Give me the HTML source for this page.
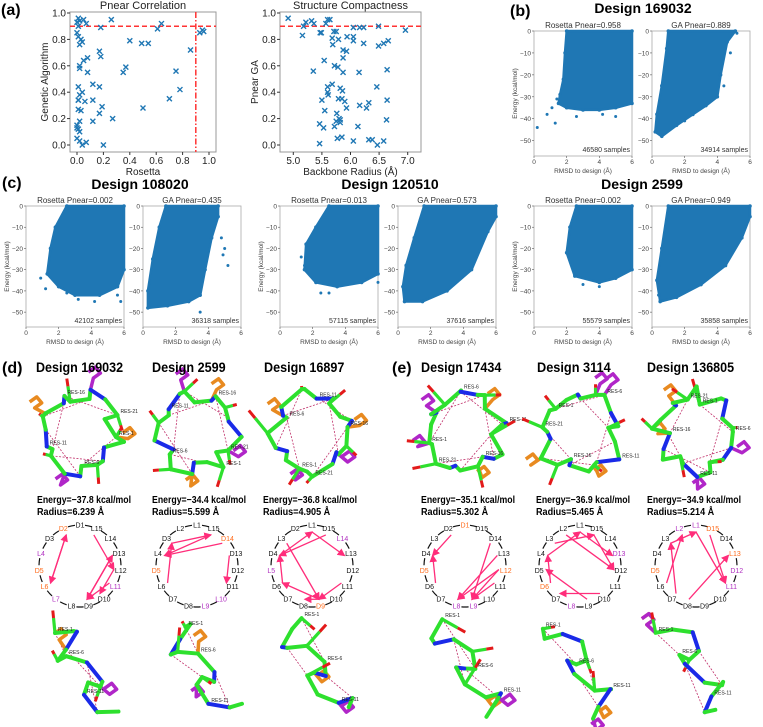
<!DOCTYPE html>
<html><head><meta charset="utf-8"><style>
html,body{margin:0;padding:0;background:#fff}
svg{display:block;font-family:"Liberation Sans",sans-serif}
</style></head><body>
<svg id="fig" width="763" height="727" viewBox="0 0 763 727" xmlns="http://www.w3.org/2000/svg">
<g id="root"></g>
</svg>
<script>
// ---------- Panel (a) data ----------
const rosettaPnear=[0.01,0.02,0.0,0.05,0.07,0.26,0.18,0.64,0.61,0.93,0.95,0.96,0.86,0.40,0.49,0.54,0.75,0.78,0.70,0.50,0.35,0.37,0.27,0.17,0.18,0.17,0.19,0.17,0.12,0.12,0.12,0.20,0.08,0.08,0.05,0.02,0.02,0.06,0.07,0.04,0.01,0.02,0.04,0.01,0.01,0.02,0.0,0.01,0.0,0.02,0.01,0.03,0.0,0.02,0.01,0.04,0.03,0.0,0.01,0.02];
const gaPnear=[0.96,0.94,0.93,0.95,0.92,0.95,0.89,0.92,0.88,0.85,0.87,0.86,0.72,0.79,0.77,0.77,0.56,0.42,0.35,0.28,0.55,0.59,0.20,0.71,0.67,0.44,0.29,0.24,0.46,0.34,0.18,0.0,0.66,0.55,0.64,0.60,0.58,0.33,0.02,0.0,0.44,0.38,0.40,0.34,0.27,0.18,0.15,0.12,0.05,0.03,0.82,0.80,0.85,0.76,0.90,0.78,0.26,0.13,0.34,0.10];
const radiusVals=[4.91,5.16,5.18,5.22,5.32,5.36,5.57,5.60,5.64,5.47,5.49,5.68,5.71,5.75,5.79,5.69,5.94,6.05,6.05,6.05,6.16,6.23,6.23,6.49,6.49,6.58,6.66,6.96,5.54,5.35,5.72,5.78,5.87,5.93,5.87,5.87,6.15,6.64,5.68,5.60,5.60,5.61,5.82,5.86,5.79,5.85,5.90,5.50,5.55,5.93,6.16,6.28,6.32,6.46,6.64,6.63,5.46,5.53,5.72,5.76,5.75,5.80,5.82,5.82,6.13,5.77,5.85,6.05,5.46,6.32,6.38,6.47,6.58];
const gaCompact=[0.96,0.83,0.90,0.93,0.94,0.92,0.92,0.95,0.95,0.85,0.85,0.81,0.86,0.86,0.80,0.76,0.82,0.89,0.82,0.79,0.89,0.89,0.77,0.90,0.75,0.77,0.79,0.87,0.64,0.56,0.60,0.59,0.72,0.71,0.66,0.55,0.55,0.57,0.46,0.44,0.40,0.38,0.43,0.41,0.35,0.35,0.33,0.34,0.26,0.28,0.30,0.28,0.32,0.44,0.34,0.19,0.16,0.13,0.14,0.24,0.18,0.20,0.19,0.17,0.14,0.05,0.06,0.03,0.01,0.04,0.04,0.0,0.03];
const yTicksA=[0.0,0.2,0.4,0.6,0.8,1.0];
const xTicksA1=[0.0,0.2,0.4,0.6,0.8,1.0];
const xTicksA2=[5.0,5.5,6.0,6.5,7.0];
const threshold=0.9;

// ---------- Density panels data ----------
const densityTitles=["Rosetta Pnear=0.958","GA Pnear=0.889","Rosetta Pnear=0.002","GA Pnear=0.435","Rosetta Pnear=0.013","GA Pnear=0.573","Rosetta Pnear=0.002","GA Pnear=0.949"];
const sampleCounts=["46580 samples","34914 samples","42102 samples","36318 samples","57115 samples","37616 samples","55579 samples","35858 samples"];
const outlines=[
 [[2.0,0],[1.9,-10],[1.8,-22],[1.6,-29],[1.5,-33],[2.0,-35],[3.0,-36],[4.0,-36],[5.0,-35],[6,-33],[6,0]],
 [[1.0,0],[0.9,-8],[0.6,-25],[0.3,-38],[0.2,-46],[0.6,-48],[1.5,-43],[2.5,-38],[3.3,-34],[4.0,-30],[4.2,-20],[4.6,-5],[5.1,0]],
 [[2.5,0],[1.8,-10],[1.5,-20],[1.3,-32],[2.0,-38],[3.0,-42],[4.5,-42],[5.6,-38],[6,-30],[6,0]],
 [[1.4,0],[1.0,-10],[0.6,-25],[0.3,-40],[0.3,-48],[1.5,-47],[2.8,-45],[3.5,-42],[3.8,-30],[4.2,-15],[4.6,-5],[4.6,0]],
 [[3.0,0],[2.2,-10],[1.6,-18],[1.5,-30],[2.2,-36],[3.5,-38],[5.0,-36],[6,-32],[6,0]],
 [[1.6,0],[1.0,-15],[0.5,-28],[0.3,-38],[0.4,-45],[1.5,-45],[3.0,-40],[4.5,-30],[5.5,-12],[6,-5],[6,0]],
 [[2.6,0],[2.2,-10],[2.0,-22],[2.5,-33],[4.0,-36],[5.0,-34],[6,-30],[6,0]],
 [[1.0,0],[0.6,-20],[0.3,-35],[0.5,-45],[1.5,-43],[3.0,-37],[4.5,-28],[5.5,-15],[6,-5],[6,0]]
];
const outliers=[
 [[0.2,-44],[0.8,-38],[1.3,-42],[1.1,-35],[1.4,-31],[2.6,-39],[4.2,-38],[5.0,-39]],
 [[4.8,-10],[5.2,-1],[4.4,-25],[2.0,-41]],
 [[0.9,-34],[1.2,-39],[3.2,-44],[4.2,-45],[5.6,-42],[5.8,-45],[2.5,-41]],
 [[5.0,-20],[5.2,-28],[4.8,-15],[3.5,-50],[4.9,-23]],
 [[1.3,-24],[1.5,-28],[2.5,-41],[3.0,-41],[6,-36]],
 [[0.4,-40],[5.8,-3]],
 [[4.0,-38],[3.0,-37]],
 [[5.7,-10],[0.4,-42]]
];
const xTicksD=[0,2,4,6];
const yTicksD=[0,-10,-20,-30,-40,-50];

// ---------- Contact circle data ----------
const circleLabels=[
 ["D1","D2","D3","L4","D5","L6","L7","L8","D9","D10","L11","L12","D13","L14","L15"],
 ["L1","L2","D3","L4","D5","L6","D7","D8","L9","L10","D11","D12","D13","D14","L15"],
 ["L1","D2","L3","D4","L5","D6","D7","D8","D9","D10","L11","D12","L13","L14","D15"],
 ["D1","D2","L3","D4","D5","D6","D7","L8","L9","L10","L11","L12","L13","D14","D15"],
 ["L1","L2","L3","L4","D5","D6","D7","L8","L9","D10","L11","D12","D13","L14","D15"],
 ["L1","L2","L3","D4","D5","L6","D7","D8","D9","D10","L11","D12","L13","D14","D15"]
];
const circleColors=[
 {2:"o",4:"p",5:"o",6:"o",7:"p",11:"p"},
 {5:"o",9:"p",10:"p",14:"o"},
 {5:"p",9:"o",14:"p"},
 {1:"o",5:"o",8:"p",9:"p",12:"o"},
 {6:"o",8:"p",13:"p"},
 {1:"p",2:"p",5:"o",11:"p",12:"p",13:"o",15:"o"}
];
const circleArrows=[
 [[2,6],[6,2],[15,12],[13,9],[11,9],[9,13],[12,10]],
 [[3,15],[15,4],[14,4],[6,3],[13,11]],
 [[4,1],[15,4],[1,13],[3,9],[9,6],[6,4],[11,9],[9,8]],
 [[2,4],[6,4],[14,9],[13,8],[12,8],[11,9],[12,9]],
 [[3,15],[4,1],[1,13],[2,12],[15,12],[9,5],[10,7],[6,4]],
 [[3,1],[15,11],[1,11],[8,13],[7,3],[6,2]]
];
const designNames=["Design 169032","Design 2599","Design 16897","Design 17434","Design 3114","Design 136805"];
const energies=["Energy=\u221237.8 kcal/mol","Energy=\u221234.4 kcal/mol","Energy=\u221236.8 kcal/mol","Energy=\u221235.1 kcal/mol","Energy=\u221236.9 kcal/mol","Energy=\u221234.9 kcal/mol"];
const radii=["Radius=6.239 \u00c5","Radius=5.599 \u00c5","Radius=4.905 \u00c5","Radius=5.302 \u00c5","Radius=5.465 \u00c5","Radius=5.214 \u00c5"];

const NS="http://www.w3.org/2000/svg";
const root=document.getElementById('root');
function el(tag,attrs,parent,text){const e=document.createElementNS(NS,tag);for(const k in attrs)e.setAttribute(k,attrs[k]);if(text!==undefined)e.textContent=text;(parent||root).appendChild(e);return e;}
function grp(name,parent){const g=el('g',{},parent);return g;}
function txt(s,x,y,size,parent,opt){opt=opt||{};const t=el('text',{x:x,y:y,'font-size':size,'text-anchor':opt.anchor||'start',fill:opt.fill||'#222','font-weight':opt.bold?'bold':'normal'},parent,s);if(opt.len){t.setAttribute('textLength',opt.len);t.setAttribute('lengthAdjust','spacingAndGlyphs');}if(opt.rot)t.setAttribute('transform','rotate(-90 '+x+' '+y+')');return t;}

// ---- panel labels
[["(a)",1,15],["(b)",510,16],["(c)",2,188],["(d)",2,373],["(e)",392,373]].forEach(p=>{const t=txt(p[0],p[1],p[2],16,root,{bold:true,fill:'#000'});});

// ---- Panel (a) scatter
function scatterPanel(name,x0,x1,xmin,xmax,xs,ys,xt,title,xlabel,ylabel,vline){
  const g=grp(name);
  const top=12,bot=152,y0v=145,y1v=13;
  const sx=v=>x0+7+(v-xmin)/(xmax-xmin)*(x1-x0-14);
  const sy=v=>y0v-v*(y0v-y1v);
  el('rect',{x:x0,y:top,width:x1-x0,height:bot-top,fill:'none',stroke:'#999','stroke-width':1},g);
  txt(title,(x0+x1)/2,9,11,g,{anchor:'middle'});
  yTicksA.forEach(v=>{el('line',{x1:x0-3,x2:x0,y1:sy(v),y2:sy(v),stroke:'#333'},g);txt(v.toFixed(1),x0-4,sy(v)+3.5,10,g,{anchor:'end'});});
  xt.forEach(v=>{el('line',{x1:sx(v),x2:sx(v),y1:bot,y2:bot+3,stroke:'#333'},g);txt(v.toFixed(1),sx(v),bot+12,10,g,{anchor:'middle'});});
  const xl=txt(xlabel,(x0+x1)/2,bot+23,10,g,{anchor:'middle'});
  const yl=txt(ylabel,x0-22,(top+bot)/2,10,g,{anchor:'middle',rot:true});
  el('line',{x1:x0,x2:x1,y1:sy(threshold),y2:sy(threshold),stroke:'#f33','stroke-width':1.5,'stroke-dasharray':'5,3'},g);
  if(vline){el('line',{x1:sx(threshold),x2:sx(threshold),y1:top,y2:bot,stroke:'#f33','stroke-width':1.5,'stroke-dasharray':'6,2,1.5,2'},g);}
  for(let i=0;i<xs.length;i++){const x=sx(xs[i]),y=sy(ys[i]);const m=el('path',{d:`M${x-2.5},${y-2.5}L${x+2.5},${y+2.5}M${x-2.5},${y+2.5}L${x+2.5},${y-2.5}`,stroke:'#1f77b4','stroke-width':1.4},g);}
}
scatterPanel('pnear-correlation-plot',70,216,0,1,rosettaPnear,gaPnear,xTicksA1,'Pnear Correlation','Rosetta','Genetic Algorithm',true);
scatterPanel('structure-compactness-plot',280,421,4.89,7.11,radiusVals,gaCompact,xTicksA2,'Structure Compactness','Backbone Radius (\u00c5)','Pnear GA',false);

// ---- Density panels
const boxes=[[534,31,156],[652,31,156],[26,206,327],[143,206,327],[280,206,327],[398,206,327],[534,206,327],[652,206,327]];
for(let p=0;p<8;p++){
  const [bx,top,bot]=boxes[p];const w=98;
  const g=grp('energy-landscape-'+(p+1));
  const sx=v=>bx+v/6*w;
  const sy=v=>top+(-v)/57*(bot-top);
  el('rect',{x:bx,y:top,width:w,height:bot-top,fill:'none',stroke:'#aaa','stroke-width':0.8},g);
  const pts=outlines[p].map(q=>sx(q[0]).toFixed(1)+','+sy(q[1]).toFixed(1)).join(' ');
  const blob=el('polygon',{points:pts,fill:'#1f77b4',stroke:'#1f77b4','stroke-width':2.5,'stroke-linejoin':'round'},g);
  
  outlines[p].forEach(q=>{el('circle',{cx:sx(q[0]),cy:sy(q[1]),r:1.8,fill:'#1f77b4'},g);});
  outliers[p].forEach(q=>{const c=el('circle',{cx:sx(q[0]),cy:sy(q[1]),r:1.5,fill:'#1f77b4'},g);});
  yTicksD.forEach(v=>{el('line',{x1:bx-2,x2:bx,y1:sy(v),y2:sy(v),stroke:'#555','stroke-width':0.6},g);txt(v===0?'0':'\u2212'+(-v),bx-3,sy(v)+2.5,6.5,g,{anchor:'end',fill:'#444'});});
  xTicksD.forEach(v=>{el('line',{x1:sx(v),x2:sx(v),y1:bot,y2:bot+2,stroke:'#555','stroke-width':0.6},g);txt(String(v),sx(v),bot+8,6.5,g,{anchor:'middle',fill:'#444'});});
  txt('RMSD to design (\u00c5)',bx+w/2,bot+17,6.5,g,{anchor:'middle',fill:'#444'});
  if(p%2===0) txt('Energy (kcal/mol)',bx-17,(top+bot)/2,6.5,g,{anchor:'middle',rot:true,fill:'#444'});
  txt(sampleCounts[p],bx+w-2,bot-4,7,g,{anchor:'end',fill:'#333'});
  txt(densityTitles[p],bx+w/2,top-3,8,g,{anchor:'middle',fill:'#333'});
}
[["Design 169032",643,13],["Design 108020",140,189],["Design 120510",390,189],["Design 2599",642,189]].forEach(t=>{const e=txt(t[0],t[1],t[2],14,root,{anchor:'middle',bold:true,fill:'#000'});});

// ---- (d)/(e) columns
const colX=[80,197,312,465,580,696];
const textX=[37,152,263,421,536,647];
const titleX=[36,152,264,421,537,647];
function deg(a){return a*Math.PI/180;}
for(let c=0;c<6;c++){
  const g=grp('design-column-'+(c+1));
  // molecules first (behind text)
  drawMolecule(g,colX[c],432,c,true);
  drawMolecule(g,colX[c],670,c,false);
  txt(designNames[c],titleX[c],372,13.5,g,{bold:true,fill:'#000',len:designNames[c].length*6.7});
  txt(energies[c],textX[c],503,10,g,{bold:true,fill:'#000',len:94});
  txt(radii[c],textX[c],515,10,g,{bold:true,fill:'#000',len:radii[c].length*4.8});
  // circle
  const cx=colX[c],cy=566,r=41;
  const ang=i=>deg(-90-(i-1)*24);
  const cg=grp('contact-circle',g);
  for(let i=1;i<=15;i++){
    const a1=deg(-90-(i-1)*24-7),a2=deg(-90-(i-1)*24-17);
    el('path',{d:`M${cx+r*Math.cos(a1)},${cy+r*Math.sin(a1)}A${r},${r} 0 0 0 ${cx+r*Math.cos(a2)},${cy+r*Math.sin(a2)}`,fill:'none',stroke:'#111','stroke-width':1.2},cg);
    const col=circleColors[c][i]==='o'?'#ff6a1a':circleColors[c][i]==='p'?'#b030c0':'#111';
    txt(circleLabels[c][i-1],cx+r*Math.cos(ang(i)),cy+r*Math.sin(ang(i))+2.5,7,cg,{anchor:'middle',fill:col});
  }
  el('defs',{},cg).innerHTML=`<marker id="ah${c}" markerWidth="6" markerHeight="6" refX="5" refY="3" orient="auto"><path d="M0,0L6,3L0,6z" fill="#ff2d7a"/></marker>`;
  circleArrows[c].forEach(a=>{
    const r2=r-7;
    const x1=cx+r2*Math.cos(ang(a[0])),y1=cy+r2*Math.sin(ang(a[0]));
    const x2=cx+r2*Math.cos(ang(a[1])),y2=cy+r2*Math.sin(ang(a[1]));
    const ln=el('line',{x1:x1,y1:y1,x2:x2,y2:y2,stroke:'#ff2d7a','stroke-width':1.3,'marker-end':`url(#ah${c})`},cg);
    
  });
}
function drawMolecule(parent,cx,cy,seed,ring){
  const g=grp(ring?'molecule-structure':'hbond-closeup',parent);
  const n=ring?22:13;
  const pts=[];
  for(let i=0;i<n;i++){
    const t=i/n*2*Math.PI;
    let x,y;
    if(ring){const rx=36+6*Math.sin(seed+i*1.7),ry=38+5*Math.cos(seed*2+i);x=cx+rx*Math.cos(t+seed)+5*Math.sin(i*2.3+seed);y=cy+ry*Math.sin(t+seed)+5*Math.cos(i*1.9);}
    else{x=cx-25+i*4.5+16*Math.sin(i*1.1+seed);y=cy-45+i*7.2+8*Math.cos(i*1.7+seed*1.3);}
    pts.push([x,y]);
  }
  for(let i=0;i+5<n;i+=3){el('line',{x1:pts[i][0],y1:pts[i][1],x2:pts[i+5][0],y2:pts[i+5][1],stroke:'#c0306a','stroke-width':0.8,'stroke-dasharray':'2,1.5'},g);}
  // side chains
  const sc=ring?[(seed*3)%n,(seed*5+7)%n,(seed+13)%n,(seed*2+18)%n]:[(seed*2+3)%n,(seed+8)%n];
  sc.forEach((k,j)=>{
    const a=pts[k];const col=j%2===1?'#b026c8':'#e88a20';
    const dx=a[0]-cx,dy=a[1]-cy,L=Math.hypot(dx,dy)||1;
    const bx=a[0]+dx/L*12,by=a[1]+dy/L*12;
    el('polyline',{points:`${a[0]},${a[1]} ${bx},${by} ${bx+7},${by-5} ${bx+2},${by-11} ${bx-5},${by-6}`,fill:'none',stroke:col,'stroke-width':3.5,'stroke-linejoin':'round'},g);
  });
  const segs=ring?n:n-1;
  for(let i=0;i<segs;i++){
    const a=pts[i],b=pts[(i+1)%n];
    const col=(i%4===2)?'#1a2ae8':'#2ee02e';
    el('line',{x1:a[0],y1:a[1],x2:b[0],y2:b[1],stroke:col,'stroke-width':4,'stroke-linecap':'round'},g);
    if(i%4===0){const dx=(b[1]-a[1])*0.8,dy=(a[0]-b[0])*0.8;el('line',{x1:a[0],y1:a[1],x2:a[0]+dx,y2:a[1]+dy,stroke:'#2ee02e','stroke-width':3.2},g);el('line',{x1:a[0]+dx,y1:a[1]+dy,x2:a[0]+dx*1.5,y2:a[1]+dy*1.5,stroke:'#e31a1a','stroke-width':3},g);}
  }
  for(let i=0;i<n;i+=5){txt('RES-'+(i+1),pts[i][0]+3,pts[i][1]-2,5,g,{fill:'#222'});}
}
</script>
</body></html>
